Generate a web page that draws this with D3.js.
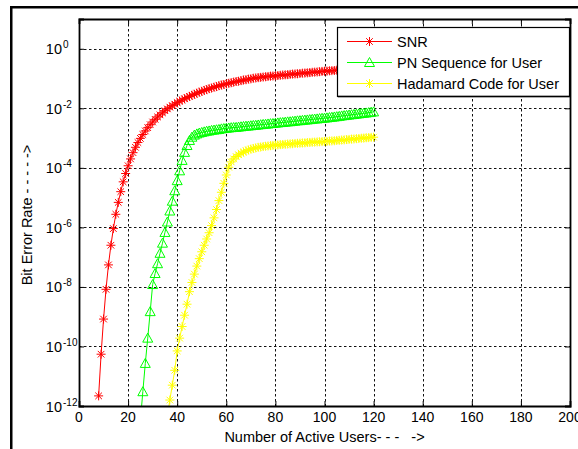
<!DOCTYPE html>
<html>
<head>
<meta charset="utf-8">
<script src="https://cdn.jsdelivr.net/npm/d3@7"></script>
<style>
  body { margin: 0; background: #fff; }
  text { font-family: "Liberation Sans", Arial, sans-serif; fill: #000; }
</style>
</head>
<body>
<svg id="chart"></svg>
<script>
// x axis: number of active users, y axis: bit error rate (stored as log10 values)
const xTicks = [0, 20, 40, 60, 80, 100, 120, 140, 160, 180, 200];
const yTickExps = [0, -2, -4, -6, -8, -10, -12];

const seriesNames = ["SNR", "PN Sequence for User", "Hadamard Code for User"];

// SNR, users 8..120
const snrStart = 8;
const snrLog = [
  -11.66, -10.26, -9.08, -8.08, -7.26, -6.60, -6.04, -5.56, -5.16, -4.80,
  -4.47, -4.19, -3.93, -3.70, -3.49, -3.31, -3.15, -3.01, -2.88, -2.76,
  -2.65, -2.55, -2.46, -2.37, -2.29, -2.22, -2.15, -2.08, -2.02, -1.96,
  -1.91, -1.86, -1.81, -1.76, -1.72, -1.68, -1.64, -1.60, -1.56, -1.53,
  -1.49, -1.46, -1.43, -1.40, -1.37, -1.34, -1.32, -1.29, -1.27, -1.24,
  -1.22, -1.20, -1.18, -1.16, -1.14, -1.12, -1.10, -1.09, -1.07, -1.05,
  -1.04, -1.02, -1.01, -0.99, -0.98, -0.97, -0.96, -0.95, -0.94, -0.93,
  -0.92, -0.915, -0.91, -0.90, -0.89, -0.88, -0.875, -0.87, -0.86, -0.85,
  -0.845, -0.84, -0.83, -0.82, -0.815, -0.81, -0.80, -0.79, -0.785, -0.78,
  -0.77, -0.76, -0.755, -0.75, -0.74, -0.735, -0.73, -0.72, -0.715, -0.71,
  -0.70, -0.695, -0.69, -0.685, -0.68, -0.675, -0.67, -0.66, -0.655, -0.65,
  -0.645, -0.64, -0.635
];

// PN sequence, users 25..120
const pnStart = 25;
const pnLog = [
  -12.50, -11.52, -10.57, -9.72, -8.83, -7.92, -7.55, -7.22, -6.87, -6.53,
  -6.17, -5.82, -5.45, -5.12, -4.77, -4.43, -4.10, -3.75, -3.48, -3.25,
  -3.08, -2.97, -2.90, -2.86, -2.83, -2.81, -2.79, -2.77, -2.76, -2.74,
  -2.73, -2.72, -2.71, -2.69, -2.68, -2.67, -2.66, -2.65, -2.645, -2.64,
  -2.63, -2.62, -2.61, -2.60, -2.595, -2.585, -2.575, -2.57, -2.56, -2.55,
  -2.54, -2.535, -2.525, -2.515, -2.51, -2.50, -2.49, -2.48, -2.475, -2.465,
  -2.455, -2.45, -2.44, -2.43, -2.42, -2.415, -2.405, -2.395, -2.39, -2.38,
  -2.37, -2.36, -2.355, -2.345, -2.335, -2.33, -2.32, -2.31, -2.30, -2.29,
  -2.28, -2.27, -2.255, -2.245, -2.235, -2.225, -2.215, -2.205, -2.195, -2.185,
  -2.175, -2.165, -2.155, -2.145, -2.13, -2.12
];

// Hadamard code, users 36..120
const hadStart = 36;
const hadLog = [
  -12.35, -11.80, -11.30, -10.80, -10.15, -9.72, -9.33, -8.95, -8.58, -8.16,
  -7.85, -7.57, -7.30, -7.05, -6.82, -6.60, -6.39, -6.18, -5.94, -5.68,
  -5.40, -5.10, -4.82, -4.52, -4.24, -3.98, -3.80, -3.70, -3.62, -3.56,
  -3.51, -3.47, -3.43, -3.40, -3.37, -3.35, -3.33, -3.31, -3.30, -3.285,
  -3.275, -3.265, -3.255, -3.245, -3.235, -3.23, -3.22, -3.215, -3.21, -3.20,
  -3.195, -3.19, -3.18, -3.175, -3.17, -3.165, -3.16, -3.15, -3.145, -3.14,
  -3.135, -3.13, -3.125, -3.12, -3.115, -3.11, -3.10, -3.095, -3.09, -3.08,
  -3.075, -3.065, -3.06, -3.05, -3.045, -3.035, -3.03, -3.02, -3.015, -3.005,
  -3.00, -2.99, -2.985, -2.975, -2.97
];

const W = 578, H = 449;
const plotL = 79, plotR = 570, plotT = 19, plotB = 406;

const svg = d3.select("#chart").attr("width", W).attr("height", H);

// figure frame (screenshot border)
svg.append("rect")
  .attr("x", 11.25).attr("y", 7.25)
  .attr("width", 700).attr("height", 700)
  .attr("fill", "none").attr("stroke", "#000").attr("stroke-width", 2.5);

const xScale = d3.scaleLinear().domain([0, 200]).range([plotL, plotR]);
const yScale = d3.scaleLog().domain([1e-12, 10]).range([plotB, plotT]);

const toPoints = (start, logs) => logs.map((v, i) => ({ x: start + i, y: Math.pow(10, v) }));
const series = [
  { name: seriesNames[0], color: "#ff0000", marker: "star", data: toPoints(snrStart, snrLog) },
  { name: seriesNames[1], color: "#00ff00", marker: "tri", data: toPoints(pnStart, pnLog) },
  { name: seriesNames[2], color: "#ffff00", marker: "star", data: toPoints(hadStart, hadLog) }
];

// grid
const grid = svg.append("g").attr("stroke", "#111").attr("stroke-width", 1)
  .attr("stroke-dasharray", "2.5,2.5");
xTicks.filter(t => t > 0 && t < 200).forEach(t => {
  grid.append("line")
    .attr("x1", Math.round(xScale(t)) + 0.5).attr("x2", Math.round(xScale(t)) + 0.5)
    .attr("y1", plotT).attr("y2", plotB);
});
yTickExps.filter(e => e > -12).forEach(e => {
  const yy = Math.round(yScale(Math.pow(10, e))) + 0.5;
  grid.append("line").attr("x1", plotL).attr("x2", plotR).attr("y1", yy).attr("y2", yy);
});

// data
svg.append("clipPath").attr("id", "plotClip")
  .append("rect").attr("x", plotL).attr("y", plotT)
  .attr("width", plotR - plotL).attr("height", plotB - plotT);

const plot = svg.append("g").attr("clip-path", "url(#plotClip)");
const line = d3.line().x(d => xScale(d.x)).y(d => yScale(d.y));

const starPath = "M-4.5,0H4.5M0,-4.5V4.5M-3.3,-3.3L3.3,3.3M-3.3,3.3L3.3,-3.3";
const triPath = "M0,-5L5,4L-5,4Z";

series.forEach(s => {
  plot.append("path")
    .datum(s.data)
    .attr("d", line)
    .attr("fill", "none")
    .attr("stroke", s.color)
    .attr("stroke-width", 1);
  plot.append("g").selectAll("path")
    .data(s.data)
    .join("path")
    .attr("transform", d => `translate(${xScale(d.x)},${yScale(d.y)})`)
    .attr("d", s.marker === "star" ? starPath : triPath)
    .attr("fill", "none")
    .attr("stroke", s.color)
    .attr("stroke-width", 1);
});

// axes box with inward ticks
const xAxisB = d3.axisBottom(xScale).tickValues(xTicks).tickSize(-5).tickFormat("");
const xAxisT = d3.axisTop(xScale).tickValues(xTicks).tickSize(-5).tickFormat("");
const yVals = yTickExps.map(e => Math.pow(10, e));
const yAxisL = d3.axisLeft(yScale).tickValues(yVals).tickSize(-5).tickFormat("");
const yAxisR = d3.axisRight(yScale).tickValues(yVals).tickSize(-5).tickFormat("");

svg.append("g").attr("transform", `translate(0,${plotB})`).call(xAxisB);
svg.append("g").attr("transform", `translate(0,${plotT})`).call(xAxisT);
svg.append("g").attr("transform", `translate(${plotL},0)`).call(yAxisL);
svg.append("g").attr("transform", `translate(${plotR},0)`).call(yAxisR);
svg.selectAll(".domain").attr("stroke", "#000").attr("stroke-width", 1.8);
svg.selectAll(".tick line").attr("stroke", "#000");

// tick labels
svg.append("g").selectAll("text")
  .data(xTicks)
  .join("text")
  .attr("x", d => xScale(d))
  .attr("y", 422)
  .attr("text-anchor", "middle")
  .attr("font-size", 14)
  .text(d => d);

const yLab = svg.append("g");
yTickExps.forEach(e => {
  const yy = yScale(Math.pow(10, e));
  yLab.append("text")
    .attr("x", 62).attr("y", yy + 5.5)
    .attr("text-anchor", "end")
    .attr("font-size", 14.5)
    .text("10");
  yLab.append("text")
    .attr("x", 63).attr("y", yy - 0.5)
    .attr("font-size", 10)
    .text(e);
});

// axis titles
svg.append("text")
  .attr("x", (plotL + plotR) / 2)
  .attr("y", 442)
  .attr("text-anchor", "middle")
  .attr("font-size", 14.5)
  .attr("xml:space", "preserve")
  .text("Number of Active Users- - -   ->");

svg.append("text")
  .attr("transform", `translate(32,215) rotate(-90)`)
  .attr("text-anchor", "middle")
  .attr("font-size", 14.5)
  .attr("xml:space", "preserve")
  .text("Bit Error Rate - - - - ->");

// legend
const lg = svg.append("g");
lg.append("rect")
  .attr("x", 337.5).attr("y", 27.5)
  .attr("width", 232).attr("height", 69)
  .attr("fill", "#fff").attr("stroke", "#000").attr("stroke-width", 1.2);
lg.append("line").attr("x1", 338).attr("x2", 570.5).attr("y1", 96.5).attr("y2", 96.5)
  .attr("stroke", "#000").attr("stroke-width", 1.5);
const rowY = [41.5, 62.5, 83.5];
series.forEach((s, i) => {
  lg.append("line")
    .attr("x1", 347).attr("x2", 392)
    .attr("y1", rowY[i]).attr("y2", rowY[i])
    .attr("stroke", s.color).attr("stroke-width", 1);
  lg.append("path")
    .attr("transform", `translate(369.5,${rowY[i]})`)
    .attr("d", s.marker === "star" ? starPath : triPath)
    .attr("fill", "none").attr("stroke", s.color).attr("stroke-width", 1);
  lg.append("text")
    .attr("x", 397).attr("y", rowY[i] + 5)
    .attr("font-size", 14.5)
    .text(s.name);
});
</script>
</body>
</html>
